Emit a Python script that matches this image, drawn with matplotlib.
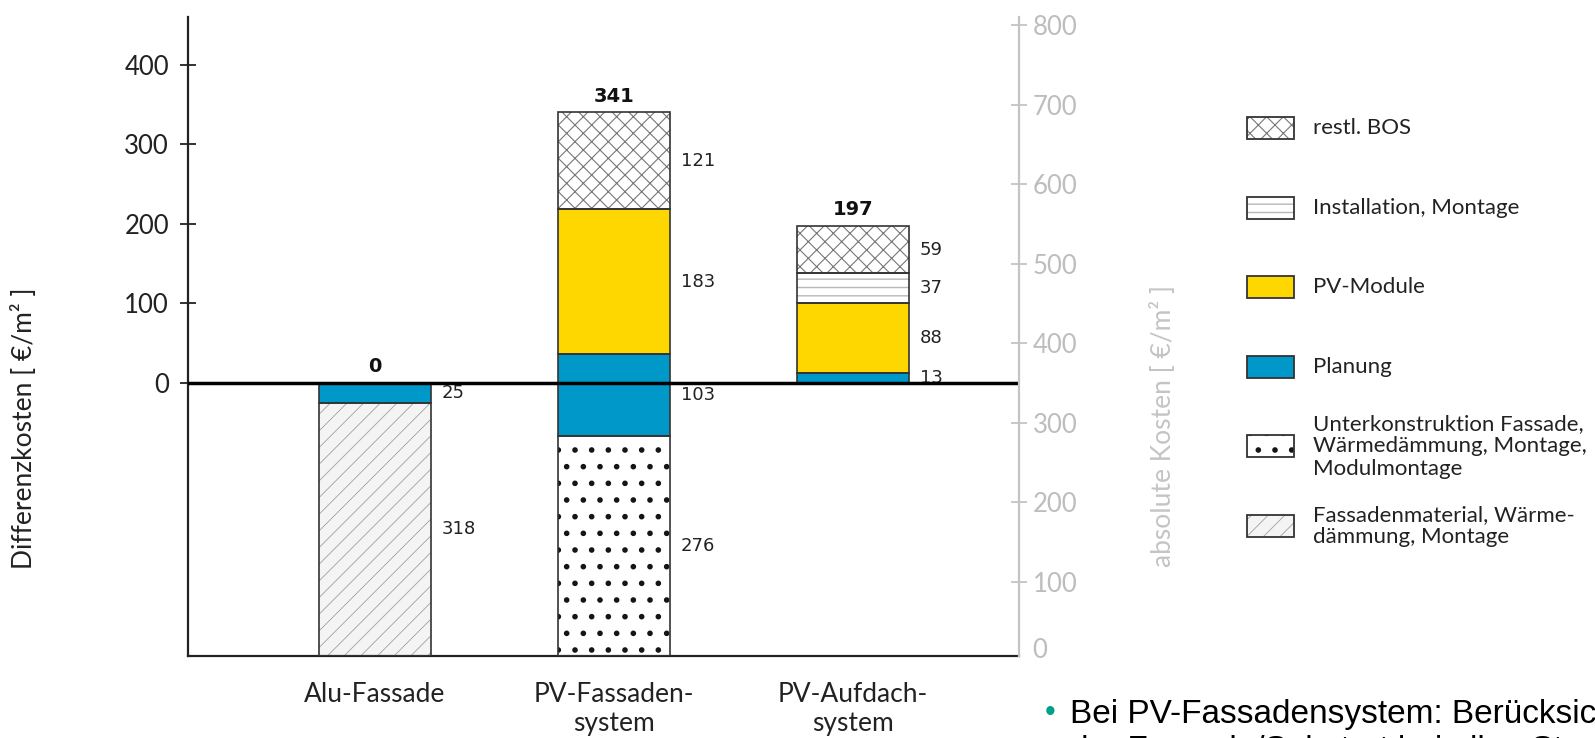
import matplotlib
matplotlib.use('Agg')
import matplotlib.pyplot as plt
from matplotlib.patches import Rectangle
import numpy as np

plt.rcParams['font.family'] = ['Lato', 'DejaVu Sans']

### chart data
categories = ['Alu-Fassade', 'PV-Fassaden-\nsystem', 'PV-Aufdach-\nsystem']
totals = [0, 341, 197]                  # bold labels above the bars
replaces_facade = [True, True, False]   # facade systems start below the reference

# cost components in €/m², bottom to top of the stack
fassadenmaterial = [318, 0, 0]
unterkonstruktion = [0, 276, 0]
planung = [25, 103, 13]
pv_module = [0, 183, 88]
installation = [0, 0, 37]
restl_bos = [0, 121, 59]

layer_names = [
    'Fassadenmaterial, Wärme-\ndämmung, Montage',
    'Unterkonstruktion Fassade,\nWärmedämmung, Montage,\nModulmontage',
    'Planung',
    'PV-Module',
    'Installation, Montage',
    'restl. BOS',
]
layer_values = [fassadenmaterial, unterkonstruktion, planung, pv_module, installation, restl_bos]

### styles (face colour, hatch, hatch colour, hatch linewidth)
styles = [
    dict(face='#f4f4f4', hatch='//', hc='#a0a0a0', hlw=0.6),
    dict(face='white', hatch='.', hc='#151515', hlw=1.6),
    dict(face='#0097c9', hatch=None, hc='#0097c9', hlw=1.0),
    dict(face='#ffd700', hatch=None, hc='#ffd700', hlw=1.0),
    dict(face='white', hatch='--', hc='#b8b8b8', hlw=1.0),
    dict(face='white', hatch='xx', hc='#777777', hlw=0.8),
]
edge = '#333333'
grey = '#c4c4c4'

# reference: absolute costs of the Alu-Fassade
ref_costs = fassadenmaterial[0] + planung[0]
bases = np.array([-ref_costs if r else 0 for r in replaces_facade], dtype=float)

fig = plt.figure(figsize=(15.95, 7.38), dpi=100)
ax = fig.add_axes([188 / 1595, 82 / 738, 831 / 1595, 639 / 738])

xs = np.arange(len(categories))
w = 0.467

bottom = bases.copy()
for name, vals, st in zip(layer_names, layer_values, styles):
    vals = np.array(vals, dtype=float)
    m = vals > 0
    plt.rcParams['hatch.linewidth'] = st['hlw']
    ax.bar(xs[m], vals[m], w, bottom=bottom[m], color=st['face'], hatch=st['hatch'],
           edgecolor=st['hc'], linewidth=0, zorder=2)
    ax.bar(xs[m], vals[m], w, bottom=bottom[m], fill=False, edgecolor=edge,
           linewidth=1.2, zorder=3)
    for x, v, b in zip(xs[m], vals[m], bottom[m]):
        ax.annotate(str(int(v)), (x + w / 2, b + v / 2), xytext=(8, 0),
                    textcoords='offset points', ha='left', va='center',
                    fontsize=13, family='DejaVu Sans', color='#222222')
    bottom = bottom + vals

for x, top, lab in zip(xs, bottom, totals):
    ax.annotate(str(lab), (x, max(top, 0)), xytext=(0, 5), textcoords='offset points',
                ha='center', va='bottom', fontsize=14, fontweight='bold',
                family='DejaVu Sans', color='#111111')

ax.axhline(0, color='black', lw=2.5, zorder=4)

ax.set_xlim(-0.782, 2.695)
ax.set_ylim(-343, 460)
ax.set_yticks([0, 100, 200, 300, 400])
ax.tick_params(axis='y', direction='inout', length=11.5, width=1.3, pad=8,
               labelsize=18.5, colors='#222222')
ax.set_xticks(xs, categories)
ax.tick_params(axis='x', length=0, pad=19, labelsize=19, colors='#222222')
for s in ['top', 'right']:
    ax.spines[s].set_visible(False)
for s in ['left', 'bottom']:
    ax.spines[s].set_linewidth(1.6)
    ax.spines[s].set_color('#222222')

### right axis: absolute costs
ax2 = ax.twinx()
ax2.set_ylim(7, 810)
ax2.set_yticks(range(100, 900, 100))
ax2.tick_params(axis='y', direction='inout', length=11.5, width=1.3, pad=4,
                labelsize=18.5, color=grey, labelcolor='#bdbdbd')
for s in ['top', 'left', 'bottom']:
    ax2.spines[s].set_visible(False)
ax2.spines['right'].set_color(grey)
ax2.spines['right'].set_linewidth(1.6)
ax2.annotate('0', (1, 0), xycoords='axes fraction', xytext=(9.5, 4),
             textcoords='offset points', ha='left', va='center',
             fontsize=18.5, color='#bdbdbd')

fig.text(24 / 1595, 1 - 428 / 738, 'Differenzkosten [ €/m² ]', rotation=90,
         ha='center', va='center', fontsize=19, color='#222222')
fig.text(1163 / 1595, 1 - 426 / 738, 'absolute Kosten [ €/m² ]', rotation=90,
         ha='center', va='center', fontsize=19, color=grey)

### legend, drawn by hand (even spacing regardless of line count)
lax = fig.add_axes([0, 0, 1, 1])
lax.set_xlim(0, 1595)
lax.set_ylim(738, 0)
lax.axis('off')
leg_y = 128 + 79.6 * np.arange(len(layer_names))
for name, st, y in zip(layer_names[::-1], styles[::-1], leg_y):
    plt.rcParams['hatch.linewidth'] = st['hlw']
    lax.add_patch(Rectangle((1247, y - 11), 47, 22, facecolor=st['face'], hatch=st['hatch'],
                            edgecolor=st['hc'], linewidth=0))
    lax.add_patch(Rectangle((1247, y - 11), 47, 22, fill=False, edgecolor=edge, linewidth=1.3))
    lax.text(1313, y, name, ha='left', va='center', fontsize=16, color='#222222',
             linespacing=1.15)

### bullet text at the bottom right (cut off by the figure edge, as in the original)
fig.text(1050 / 1595, 1 - 713 / 738, '•', ha='center', va='center', fontsize=22,
         color='#00a08a', family='Liberation Sans')
fig.text(1070 / 1595, 1 - 723 / 738, 'Bei PV-Fassadensystem: Berücksichtigung',
         ha='left', va='baseline', fontsize=24, family='Liberation Sans')
fig.text(1070 / 1595, 1 - 759 / 738, 'der Fassade/Substrat bei allen Standorten',
         ha='left', va='baseline', fontsize=24, family='Liberation Sans')

fig.savefig('out.png', dpi=100)
